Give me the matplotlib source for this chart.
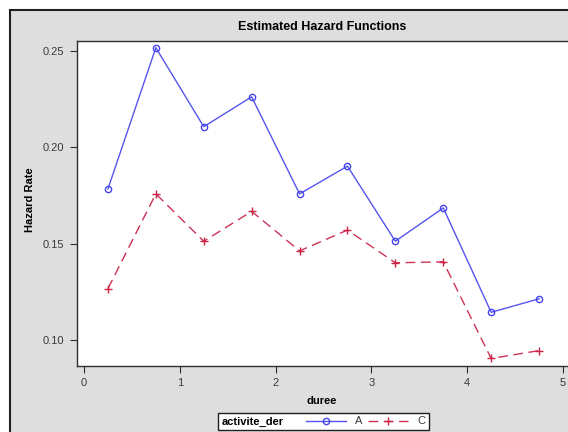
import matplotlib
matplotlib.use("Agg")
import matplotlib.pyplot as plt
from matplotlib.patches import Rectangle
from matplotlib.offsetbox import HPacker

plt.rcParams['font.family'] = ['Liberation Sans', 'DejaVu Sans']

duree = [0.25, 0.75, 1.25, 1.75, 2.25, 2.75, 3.25, 3.75, 4.25, 4.75]
hazard_a = [0.1785, 0.2518, 0.2108, 0.2263, 0.1759, 0.1903, 0.1513, 0.1686, 0.1144, 0.1214]
hazard_c = [0.1267, 0.1759, 0.1513, 0.1668, 0.1463, 0.1571, 0.1401, 0.1406, 0.0904, 0.0945]
xticks = [0, 1, 2, 3, 4, 5]
yticks = [0.10, 0.15, 0.20, 0.25]

W, H = 568, 432
fig = plt.figure(figsize=(W / 100, H / 100), dpi=100)
fig.patch.set_facecolor('white')

# grey graph wall, framed on the left and top
fig.patches.append(Rectangle((10 / W, -0.2), 1.3, 1.2 - 10 / H,
                             transform=fig.transFigure, facecolor='#dedede',
                             edgecolor='#202020', linewidth=1.5, zorder=-5))

ax = fig.add_axes([77 / W, 1 - 366 / H, 1 - 77 / W, (366 - 41) / H])
ax.set_facecolor('white')

ax.plot(duree, hazard_a, color='#5555ee', linewidth=1.0, marker='o',
        markersize=4.5, markerfacecolor='none', markeredgecolor='#4444ee',
        markeredgewidth=1.0, label='A')
ax.plot(duree, hazard_c, color='#cc3355', linewidth=1.0, dashes=(7, 4),
        marker='+', markersize=6, markeredgecolor='#cc2244',
        markeredgewidth=1.0, label='C')

ax.set_xlim(-0.073, 5.052)
ax.set_ylim(0.0865, 0.2553)
ax.set_xticks(xticks)
ax.set_xticklabels([str(v) for v in xticks])
ax.set_yticks(yticks)
ax.set_yticklabels(['%.2f' % v for v in yticks])
ax.tick_params(direction='out', length=5, width=0.8, color='#303030',
               labelcolor='#3a3a3a', labelsize=8, pad=4)
ax.spines['right'].set_visible(False)
for s in ['left', 'top', 'bottom']:
    ax.spines[s].set_color('#303030')
    ax.spines[s].set_linewidth(1.0)

fig.text(322 / W, 1 - 27 / H, 'Estimated Hazard Functions', ha='center',
         va='center', fontsize=9, fontweight='bold', color='black')
fig.text(322 / W, 1 - 401 / H, 'duree', ha='center', va='center',
         fontsize=8, fontweight='bold', color='black')
fig.text(30 / W, 1 - 200 / H, 'Hazard Rate', ha='center', va='center',
         rotation=90, fontsize=8, fontweight='bold', color='black')

leg = ax.legend(title='activite_der', ncol=2, loc='center',
                bbox_to_anchor=(323.5 / W, 1 - 421.5 / H),
                bbox_transform=fig.transFigure, fontsize=8, frameon=True,
                fancybox=False, framealpha=1, edgecolor='#202020',
                borderpad=0.35, handlelength=3.6, handletextpad=0.8,
                columnspacing=0.5)
leg.get_frame().set_linewidth(1.0)
leg.get_title().set_fontweight('bold')
leg.get_title().set_fontsize(8)
for t in leg.get_texts():
    t.set_color('#3a3a3a')

# put the legend title on the same row as the entries
old = leg._legend_box
row = HPacker(pad=old.pad, sep=16, align='center',
              children=[leg._legend_title_box, leg._legend_handle_box])
row.set_figure(fig)
row.axes = ax
row.set_offset(leg._findoffset)
leg._legend_box = row

fig.savefig('out.png', dpi=100, facecolor='white')
